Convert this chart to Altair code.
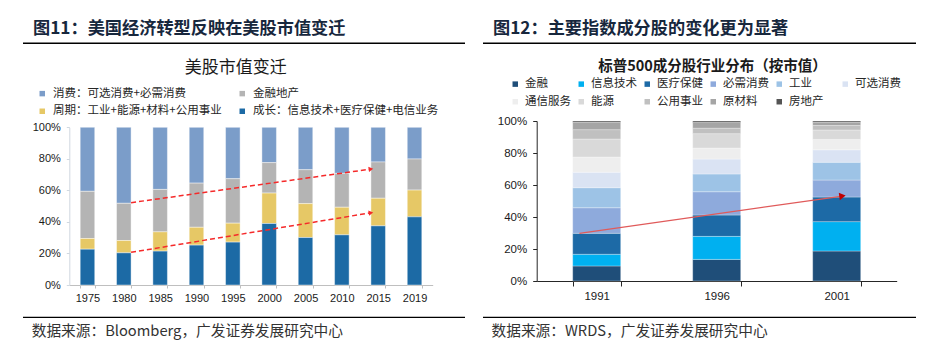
import altair as alt
import pandas as pd

CJK = "Noto Sans CJK SC"
LAT = "Liberation Sans"

# ---------------- Left chart data ----------------
years = ["1975", "1980", "1985", "1990", "1995", "2000", "2005", "2010", "2015", "2019"]
growth = [22.7, 20.4, 21.5, 25.3, 27.2, 39.0, 30.1, 31.8, 37.5, 43.2]
cyclical = [6.8, 7.8, 12.2, 11.3, 12.0, 19.3, 21.5, 17.5, 17.5, 17.0]
finance = [29.9, 23.6, 26.9, 28.0, 28.2, 19.3, 21.5, 21.5, 23.0, 19.7]
consumer = [40.6, 48.2, 39.4, 35.4, 32.6, 22.4, 26.9, 29.2, 22.0, 20.1]
left_series = ["消费：可选消费+必需消费", "金融地产", "周期：工业+能源+材料+公用事业", "成长：信息技术+医疗保健+电信业务"]
left_colors = ["#7b9dc9", "#b4b4b4", "#e6c866", "#1c6aa5"]

# dashed trend arrows (left)
l_arrow_from = ["1980", "1980"]
l_arrow_to = ["2015", "2015"]
l_arrow_y1 = [52.2, 20.7]
l_arrow_y2 = [73.5, 45.8]

# ---------------- Right chart data ----------------
r_years = ["1991", "1996", "2001"]
sectors = ["金融", "信息技术", "医疗保健", "必需消费", "工业", "可选消费", "通信服务", "能源", "公用事业", "原材料", "房地产"]
s1991 = [9.4, 7.3, 13.1, 16.0, 12.5, 9.7, 9.5, 11.25, 5.85, 4.6, 0.8]
s1996 = [13.5, 14.4, 13.35, 14.55, 11.1, 9.3, 6.9, 9.0, 3.4, 3.6, 0.9]
s2001 = [18.75, 18.35, 15.4, 10.6, 11.1, 7.8, 6.5, 5.9, 2.8, 2.0, 0.8]
right_colors = ["#1f4e79", "#00b0f0", "#1d6aa6", "#8eaadc", "#9dc3e6", "#dae3f3",
                "#eeeeee", "#d9d9d9", "#c0c0c0", "#a5a5a5", "#555555"]

r_arrow_from = ["1991"]
r_arrow_to = ["2001"]
r_arrow_y1 = [29.8]
r_arrow_y2 = [53.1]

header_left = "图11：美国经济转型反映在美股市值变迁"
header_right = "图12：主要指数成分股的变化更为显著"
title_left = "美股市值变迁"
title_right = "标普500成分股行业分布（按市值）"
source_left = "数据来源：Bloomberg，广发证券发展研究中心"
source_right = "数据来源：WRDS，广发证券发展研究中心"

# ---------------- Build tables ----------------
left_vals = [consumer, finance, cyclical, growth]
left_order = [3, 2, 1, 0]
lrows = []
for i, y in enumerate(years):
    for name, vals, o in zip(left_series, left_vals, left_order):
        lrows.append({"year": y, "series": name, "value": vals[i], "ord": o})
left_df = pd.DataFrame(lrows)

rrows = []
for y, vals in zip(r_years, [s1991, s1996, s2001]):
    for k, (name, v) in enumerate(zip(sectors, vals)):
        rrows.append({"year": y, "sector": name, "value": v, "ord": k})
right_df = pd.DataFrame(rrows)

l_arrow_df = pd.DataFrame({"x1": l_arrow_from, "x2": l_arrow_to, "y1": l_arrow_y1, "y2": l_arrow_y2})
r_arrow_df = pd.DataFrame({"x1": r_arrow_from, "x2": r_arrow_to, "y1": r_arrow_y1, "y2": r_arrow_y2})


def column_major(items, ncols):
    """Reorder legend entries so a column-filled grid reads row by row."""
    nrows = -(-len(items) // ncols)
    out = []
    for c in range(ncols):
        for r in range(nrows):
            i = r * ncols + c
            if i < len(items):
                out.append(items[i])
    return out


left_dom = column_major(left_series, 2)
left_rng = [left_colors[left_series.index(s)] for s in left_dom]
right_dom = column_major(sectors, 6)
right_rng = [right_colors[sectors.index(s)] for s in right_dom]

# ---------------- Left panel ----------------
xs_L = alt.Scale(domain=years, range=[61.3, 424.7], paddingInner=0.6, paddingOuter=0.3)
ys_L = alt.Scale(domain=[0, 100], range=[277, 119.3], nice=False, zero=True)
xa_L = alt.Axis(orient="bottom", offset=-65, title=None, labelAngle=0, tickBand="extent",
                domainColor="#bfbfbf", tickColor="#bfbfbf", tickSize=3, labelPadding=4,
                labelFont=LAT, labelFontSize=11, labelColor="#1a1a1a", grid=False)
ya_L = alt.Axis(orient="left", offset=-61.3, title=None, values=[0, 20, 40, 60, 80, 100],
                labelExpr="datum.value + '%'", domainColor="#d0d8e0", tickColor="#d0d8e0",
                tickSize=3, labelPadding=6, labelFont=LAT, labelFontSize=11,
                labelColor="#1a1a1a", grid=False)

bars_L = alt.Chart(left_df).mark_bar(stroke="#ffffff", strokeWidth=0.6, strokeOpacity=0.7).encode(
    x=alt.X("year:N", scale=xs_L, axis=xa_L, sort=years),
    y=alt.Y("value:Q", stack="zero", scale=ys_L, axis=ya_L),
    color=alt.Color("series:N", scale=alt.Scale(domain=left_dom, range=left_rng),
                    legend=alt.Legend(title=None, orient="none", legendX=28.5, legendY=79.5,
                                      columns=2, symbolType="square", symbolSize=30,
                                      symbolStrokeWidth=0, labelFont=CJK, labelFontSize=11.5,
                                      labelColor="#262626", labelOffset=5, columnPadding=14,
                                      rowPadding=5, padding=0, labelLimit=400)),
    order=alt.Order("ord:Q", sort="ascending"),
)

arrows_L = alt.Chart(l_arrow_df).mark_rule(color="#f52a2a", strokeDash=[5, 3], strokeWidth=1.5).encode(
    x=alt.X("x1:N", bandPosition=1, scale=xs_L, axis=xa_L),
    x2=alt.X2("x2", bandPosition=0),
    y=alt.Y("y1:Q", scale=ys_L, axis=ya_L),
    y2=alt.Y2("y2"),
)
heads_L = alt.Chart(l_arrow_df).mark_point(shape="triangle-right", filled=True, size=28,
                                           angle=351.5, color="#f52a2a", opacity=1).encode(
    x=alt.X("x2:N", bandPosition=0, scale=xs_L, axis=xa_L),
    y=alt.Y("y2:Q", scale=ys_L, axis=ya_L),
)
left_panel = alt.layer(bars_L, arrows_L, heads_L)

# ---------------- Right panel ----------------
xs_R = alt.Scale(domain=r_years, range=[528.7, 888.7], paddingInner=0.6, paddingOuter=0.3)
ys_R = alt.Scale(domain=[0, 100], range=[273, 113], nice=False, zero=True)
xa_R = alt.Axis(orient="bottom", offset=-69, title=None, labelAngle=0, tickBand="extent",
                domainColor="#262626", tickColor="#262626", tickSize=5, labelPadding=4,
                labelFont=LAT, labelFontSize=11.5, labelColor="#1a1a1a", grid=False)
ya_R = alt.Axis(orient="left", offset=-528.7, title=None, values=[0, 20, 40, 60, 80, 100],
                labelExpr="datum.value + '%'", domainColor="#262626", tickColor="#262626",
                tickSize=4, labelPadding=6, labelFont=LAT, labelFontSize=11.5,
                labelColor="#1a1a1a", grid=False)

bars_R = alt.Chart(right_df).mark_bar(stroke="#ffffff", strokeWidth=0.5, strokeOpacity=0.6).encode(
    x=alt.X("year:N", scale=xs_R, axis=xa_R, sort=r_years),
    y=alt.Y("value:Q", stack="zero", scale=ys_R, axis=ya_R),
    color=alt.Color("sector:N", scale=alt.Scale(domain=right_dom, range=right_rng),
                    legend=alt.Legend(title=None, orient="none", legendX=501.5, legendY=70,
                                      columns=6, gridAlign="all", symbolType="square",
                                      symbolSize=30, symbolStrokeWidth=0, labelFont=CJK,
                                      labelFontSize=11.5, labelColor="#262626", labelOffset=4,
                                      columnPadding=4, rowPadding=5, padding=0)),
    order=alt.Order("ord:Q", sort="ascending"),
)
arrow_R = alt.Chart(r_arrow_df).mark_rule(color="#e05a5a", strokeWidth=1.2).encode(
    x=alt.X("x1:N", bandPosition=0.14, scale=xs_R, axis=xa_R),
    x2=alt.X2("x2", bandPosition=0.62),
    y=alt.Y("y1:Q", scale=ys_R, axis=ya_R),
    y2=alt.Y2("y2"),
)
head_R = alt.Chart(r_arrow_df).mark_point(shape="triangle-right", filled=True, size=55,
                                          angle=352, color="#c00000", opacity=1).encode(
    x=alt.X("x2:N", bandPosition=0.62, scale=xs_R, axis=xa_R),
    y=alt.Y("y2:Q", scale=ys_R, axis=ya_R),
)
right_panel = alt.layer(bars_R, arrow_R, head_R)

# ---------------- Decorations ----------------
one = pd.DataFrame({"k": [0]})


def txt(s, x, y, size, weight="normal", color="#1a1a1a", align="left", font=CJK):
    d = pd.DataFrame({"t": [s]})
    return alt.Chart(d).mark_text(align=align, baseline="middle", font=font, fontSize=size,
                                  fontWeight=weight, color=color).encode(
        text="t:N", x=alt.value(x), y=alt.value(y))


def hline(x1, x2, y, w, color="#000000"):
    return alt.Chart(one).mark_rule(color=color, strokeWidth=w).encode(
        x=alt.value(x1), x2=alt.value(x2), y=alt.value(y))


decor = [
    txt(header_left, 25, 21.2, 17.2, "bold", "#17273d"),
    txt(header_right, 485, 21.2, 17.2, "bold", "#17273d"),
    hline(15, 457, 35.3, 1.5),
    hline(475, 908, 35.3, 1.5),
    txt(title_left, 227.8, 60.3, 17, "normal", "#1a1a1a", "center"),
    txt(title_right, 704.5, 59.3, 14.5, "bold", "#1a1a1a", "center"),
    hline(15, 457, 309.3, 1.2),
    hline(475, 908, 309.3, 1.2),
    txt(source_left, 23.7, 323.5, 14.7, "normal", "#333333"),
    txt(source_right, 483.5, 323.5, 14.7, "normal", "#333333"),
]

chart = alt.layer(left_panel, right_panel, *decor).resolve_scale(
    x="independent", y="independent", color="independent"
).properties(
    width=922, height=342, autosize=alt.AutoSizeParams(type="none"), padding=0,
    background="#ffffff"
).configure_view(stroke=None)

chart.save("out.html", embed_options={"renderer": "svg", "actions": False})
